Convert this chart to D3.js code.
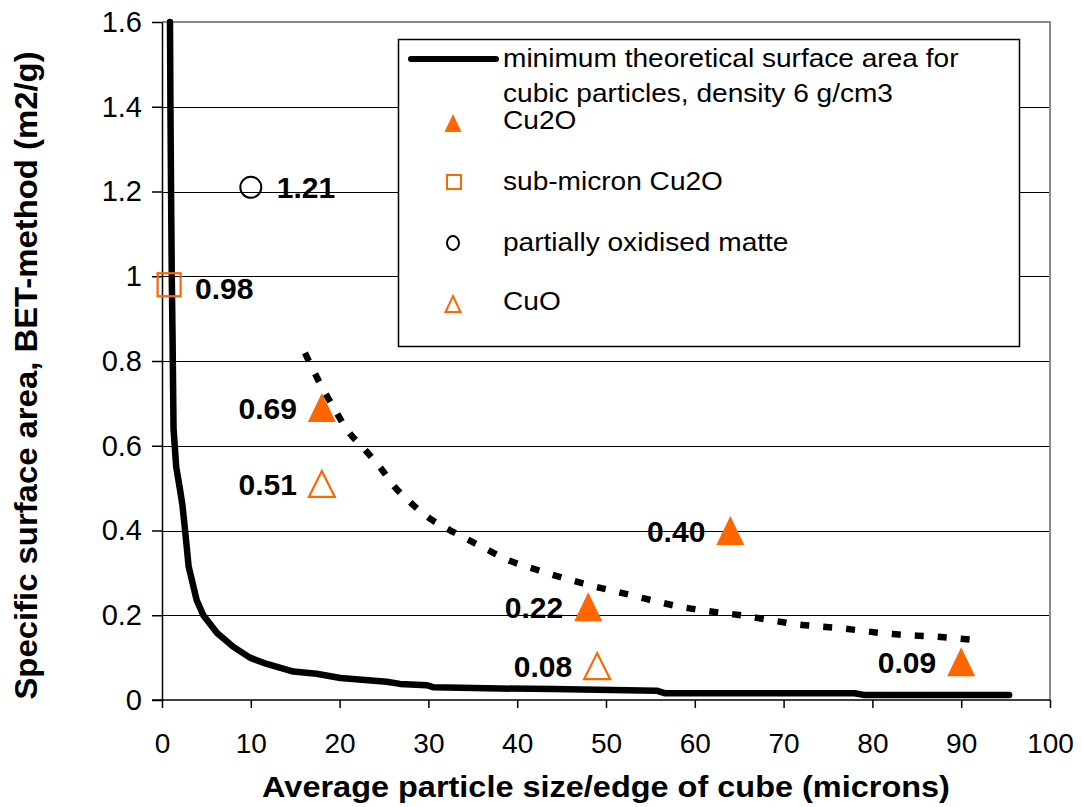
<!DOCTYPE html>
<html>
<head>
<meta charset="utf-8">
<script src="https://cdn.jsdelivr.net/npm/d3@7"></script>
<style>
  html, body { margin: 0; padding: 0; background: #fff; }
  svg text { font-family: "Liberation Sans", Arial, sans-serif; fill: #000; }
</style>
</head>
<body>
<svg id="chart" width="1082" height="807"></svg>
<script>
// ---- data ----
const xTicks = [0, 10, 20, 30, 40, 50, 60, 70, 80, 90, 100];
const yTicks = [0, 0.2, 0.4, 0.6, 0.8, 1, 1.2, 1.4, 1.6];
const yTickLabels = ["0", "0.2", "0.4", "0.6", "0.8", "1", "1.2", "1.4", "1.6"];

// minimum theoretical surface area curve
const minCurveX = [0.9, 0.95, 1.02, 1.1, 1.18, 1.3, 1.6, 2.0, 2.3, 2.6, 3.0, 3.9, 4.65, 6.2, 8.0, 9.9, 11.8, 14.8, 17.4, 20.1, 25.3, 26.8, 29.8, 30.6, 38.1, 44, 55.7, 56.6, 78, 79, 95.4];
const minCurveY = [1.6, 1.4, 1.2, 1.0, 0.87, 0.64, 0.55, 0.5, 0.46, 0.40, 0.315, 0.236, 0.2, 0.158, 0.126, 0.1, 0.085, 0.067, 0.062, 0.052, 0.043, 0.038, 0.035, 0.030, 0.027, 0.026, 0.022, 0.016, 0.016, 0.012, 0.012];

// dotted trend line
const trendX = [16.1, 17.8, 19.5, 21.0, 22.7, 24.5, 26.2, 28.3, 30.4, 32.4, 34.5, 36.7, 39.0, 42.1, 47.4, 52.7, 57.9, 66.1, 71.4, 76.6, 81.9, 87.4, 92.5];
const trendY = [0.819, 0.747, 0.684, 0.633, 0.594, 0.551, 0.503, 0.460, 0.425, 0.401, 0.378, 0.354, 0.330, 0.308, 0.275, 0.248, 0.222, 0.197, 0.179, 0.169, 0.156, 0.149, 0.140];

const cu2oX = [18, 48, 64, 90];
const cu2oY = [0.69, 0.22, 0.40, 0.09];
const subMicronX = [0.8];
const subMicronY = [0.98];
const matteX = [10];
const matteY = [1.21];
const cuoX = [18, 49];
const cuoY = [0.51, 0.08];

const legendLabels = [
  ["minimum theoretical surface area for", "cubic particles, density 6 g/cm3"],
  ["Cu2O"], ["sub-micron Cu2O"], ["partially oxidised matte"], ["CuO"]
];
const xTitle = "Average particle size/edge of cube (microns)";
const yTitle = "Specific surface area, BET-method (m2/g)";

// ---- drawing ----
const ORANGE = "#FF6600";
const svg = d3.select("#chart");
const x = d3.scaleLinear().domain([0, 100]).range([162, 1050]);
const y = d3.scaleLinear().domain([0, 1.6]).range([700, 22]);

// gridlines
svg.append("g").selectAll("line").data(yTicks.filter(v => v > 0 && v < 1.6)).join("line")
  .attr("x1", x(0)).attr("x2", x(100))
  .attr("y1", d => Math.round(y(d)) + 0.5).attr("y2", d => Math.round(y(d)) + 0.5)
  .attr("stroke", "#000").attr("stroke-width", 1.2);

// plot border top/right (gray)
svg.append("path")
  .attr("d", `M${x(0)},${y(1.6)}H${x(100)}V${y(0)}`)
  .attr("fill", "none").attr("stroke", "#8a8a8a").attr("stroke-width", 2);

// axes
const yAxis = d3.axisLeft(y).tickValues(yTicks).tickSize(10).tickSizeOuter(0).tickPadding(10)
  .tickFormat((d, i) => yTickLabels[i]);
const gy = svg.append("g").attr("transform", `translate(${x(0)},0)`).call(yAxis);
const xAxis = d3.axisBottom(x).tickValues(xTicks).tickSize(8).tickSizeOuter(0).tickPadding(25)
  .tickFormat(d3.format("d"));
const gx = svg.append("g").attr("transform", `translate(0,${y(0)})`).call(xAxis);
[gx, gy].forEach(g => {
  g.select(".domain").attr("stroke", "#000").attr("stroke-width", 1.5);
  g.selectAll(".tick line").attr("stroke", "#000").attr("stroke-width", 1.5);
  g.selectAll(".tick text").attr("font-family", "Liberation Sans, Arial, sans-serif").attr("font-size", 28);
});
gy.selectAll(".tick text").attr("font-size", 29).attr("x", -20);
gx.select(".domain").attr("d", `M${x(0) - 10},0H${x(100)}`);

// minimum curve
const line = d3.line().x(d => x(d[0])).y(d => y(d[1]));
svg.append("path")
  .datum(d3.zip(minCurveX, minCurveY))
  .attr("d", line)
  .attr("fill", "none").attr("stroke", "#000").attr("stroke-width", 6.5)
  .attr("stroke-linejoin", "round").attr("stroke-linecap", "round");

// dotted trend
svg.append("path")
  .datum(d3.zip(trendX, trendY))
  .attr("d", d3.line().curve(d3.curveMonotoneX).x(d => x(d[0])).y(d => y(d[1])))
  .attr("fill", "none").attr("stroke", "#000").attr("stroke-width", 6.5)
  .attr("stroke-dasharray", "9,14");

// markers
const triUp = (cx, cy, w, h) => `M${cx},${cy - h / 2}L${cx + w / 2},${cy + h / 2}L${cx - w / 2},${cy + h / 2}Z`;

svg.append("g").selectAll("path").data(d3.zip(cu2oX, cu2oY)).join("path")
  .attr("d", d => triUp(x(d[0]), y(d[1]), 28, 29)).attr("fill", ORANGE);
svg.append("g").selectAll("path").data(d3.zip(cuoX, cuoY)).join("path")
  .attr("d", d => triUp(x(d[0]), y(d[1]), 26, 26)).attr("fill", "#fff")
  .attr("stroke", ORANGE).attr("stroke-width", 2.2);
svg.append("g").selectAll("rect").data(d3.zip(subMicronX, subMicronY)).join("rect")
  .attr("x", d => x(d[0]) - 11.5).attr("y", d => y(d[1]) - 11.5)
  .attr("width", 23).attr("height", 23).attr("fill", "none")
  .attr("stroke", ORANGE).attr("stroke-width", 2.2);
svg.append("g").selectAll("circle").data(d3.zip(matteX, matteY)).join("circle")
  .attr("cx", d => x(d[0])).attr("cy", d => y(d[1])).attr("r", 10.5)
  .attr("fill", "none").attr("stroke", "#000").attr("stroke-width", 2);

// value labels
function stretchText(parent, tx, ty, txt, opts) {
  const g = parent.append("g").attr("transform", `translate(${tx},${ty}) scale(${opts.sx || 1},1)`);
  return g.append("text").text(txt)
    .attr("font-size", opts.size).attr("font-weight", opts.weight || "normal")
    .attr("text-anchor", opts.anchor || "start");
}
const fmt2 = d3.format(".2f");
const leftLabels = d3.zip(cu2oX, cu2oY).concat(d3.zip(cuoX, cuoY));
leftLabels.forEach(d => {
  stretchText(svg, x(d[0]) - 25, y(d[1]) + 11, fmt2(d[1]), { size: 30, weight: "bold", anchor: "end" });
});
d3.zip(subMicronX, subMicronY).forEach(d => {
  stretchText(svg, x(d[0]) + 26, y(d[1]) + 14, fmt2(d[1]), { size: 30, weight: "bold" });
});
d3.zip(matteX, matteY).forEach(d => {
  stretchText(svg, x(d[0]) + 26, y(d[1]) + 11, fmt2(d[1]), { size: 30, weight: "bold" });
});

// legend
const lg = svg.append("g");
lg.append("rect").attr("x", 398.5).attr("y", 39.5).attr("width", 621).attr("height", 307)
  .attr("fill", "#fff").attr("stroke", "#000").attr("stroke-width", 1.5);
lg.append("line").attr("x1", 411).attr("x2", 496).attr("y1", 59).attr("y2", 59)
  .attr("stroke", "#000").attr("stroke-width", 6).attr("stroke-linecap", "round");
const legTextX = 503;
stretchText(lg, legTextX, 67, legendLabels[0][0], { size: 26, sx: 1.08 });
stretchText(lg, legTextX, 102, legendLabels[0][1], { size: 26, sx: 1.08 });
stretchText(lg, legTextX, 129, legendLabels[1][0], { size: 26, sx: 1.08 });
stretchText(lg, legTextX, 190, legendLabels[2][0], { size: 26, sx: 1.08 });
stretchText(lg, legTextX, 251, legendLabels[3][0], { size: 26, sx: 1.08 });
stretchText(lg, legTextX, 310, legendLabels[4][0], { size: 26, sx: 1.08 });
lg.append("path").attr("d", triUp(453, 123, 17, 18)).attr("fill", ORANGE);
lg.append("rect").attr("x", 447).attr("y", 175).attr("width", 14).attr("height", 14)
  .attr("fill", "none").attr("stroke", ORANGE).attr("stroke-width", 2);
lg.append("ellipse").attr("cx", 453).attr("cy", 243).attr("rx", 6).attr("ry", 7)
  .attr("fill", "none").attr("stroke", "#000").attr("stroke-width", 2);
lg.append("path").attr("d", triUp(453, 304, 15, 16)).attr("fill", "none")
  .attr("stroke", ORANGE).attr("stroke-width", 2);

// axis titles
stretchText(svg, (262 + 950) / 2, 797, xTitle, { size: 29, weight: "bold", anchor: "middle", sx: 1.12 });
const yt = svg.append("g").attr("transform", `translate(37,${(43 + 708) / 2}) rotate(-90) scale(1.06,1)`);
yt.append("text").text(yTitle).attr("font-size", 31).attr("font-weight", "bold").attr("text-anchor", "middle");
</script>
</body>
</html>
